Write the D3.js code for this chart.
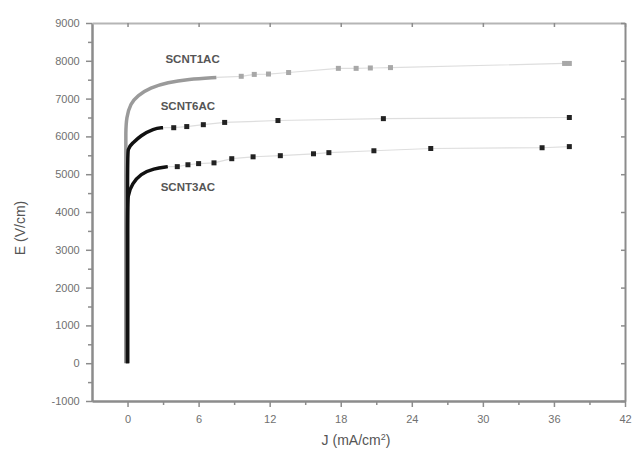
<!DOCTYPE html>
<html>
<head>
<meta charset="utf-8">
<script src="https://cdn.jsdelivr.net/npm/d3@7"></script>
<style>
  body { margin: 0; background: #fff; }
  text { font-family: "Liberation Sans", Arial, sans-serif; }
</style>
</head>
<body>
<div class="chart"></div>
<script>
// tick values
var jTicks = [0, 6, 12, 18, 24, 30, 36, 42];
var eTicks = [-1000, 0, 1000, 2000, 3000, 4000, 5000, 6000, 7000, 8000, 9000];

// series names
var seriesNames = ["SCNT1AC", "SCNT6AC", "SCNT3AC"];

// SCNT1AC (grey) - dense rising part, then sparse points
var curve1J = [-0.15, -0.15, -0.15, -0.1, 0.25, 0.85, 1.9, 3.4, 5.1, 7.5];
var curve1E = [0, 5600, 6100, 6500, 6870, 7080, 7290, 7430, 7510, 7560];
var pts1J = [9.6, 10.7, 11.9, 13.6, 17.8, 19.3, 20.5, 22.2, 36.9, 37.3];
var pts1E = [7590, 7640, 7650, 7690, 7800, 7800, 7810, 7820, 7930, 7930];

// SCNT6AC
var curve2J = [0, 0, 0, 0.4, 1.1, 2.2, 3.0];
var curve2E = [0, 5300, 5700, 5810, 6020, 6210, 6230];
var pts2J = [3.9, 5.0, 6.4, 8.2, 12.7, 21.6, 37.3];
var pts2E = [6230, 6260, 6310, 6370, 6420, 6470, 6500];

// SCNT3AC
var curve3J = [0, 0, 0, 0.4, 1.1, 2.2, 3.4];
var curve3E = [0, 4000, 4450, 4750, 5010, 5150, 5200];
var pts3J = [4.2, 5.1, 6.0, 7.3, 8.8, 10.6, 12.9, 15.7, 17.0, 20.8, 25.6, 35.0, 37.3];
var pts3E = [5200, 5250, 5280, 5300, 5410, 5460, 5490, 5540, 5570, 5620, 5680, 5700, 5730];

var width = 632, height = 454;
var padL = 92, padR = 625, padT = 23, padB = 401;

var svg = d3.select(".chart").append("svg")
    .attr("width", width)
    .attr("height", height)
    .style("background-color", "white");

var x = d3.scaleLinear().domain([-3, 42]).range([padL, padR]);
var y = d3.scaleLinear().domain([-1000, 9000]).range([padB, padT]);

var axisColor = "#8c8c8c";
var labelColor = "#707070";

function zip(a, b) {
    return a.map((v, i) => ({j: v, e: b[i]}));
}

var series = [
    {name: seriesNames[0], curve: zip(curve1J, curve1E), pts: zip(pts1J, pts1E), color: "#9a9a9a", mark: "#a8a8a8"},
    {name: seriesNames[1], curve: zip(curve2J, curve2E), pts: zip(pts2J, pts2E), color: "#111", mark: "#222"},
    {name: seriesNames[2], curve: zip(curve3J, curve3E), pts: zip(pts3J, pts3E), color: "#111", mark: "#222"}
];

var line = d3.line()
    .x(d => x(d.j))
    .y(d => y(d.e))
    .curve(d3.curveBasis);

var thin = d3.line()
    .x(d => x(d.j))
    .y(d => y(d.e));

//thin connecting lines
series.forEach(function(s) {
    svg.append("path")
    .datum([s.curve[s.curve.length - 1]].concat(s.pts))
    .attr("fill", "none")
    .attr("stroke", "#dedede")
    .attr("stroke-width", 1.2)
    .attr("d", thin);
});

//thick dense part
series.forEach(function(s) {
    svg.append("path")
    .datum(s.curve)
    .attr("fill", "none")
    .attr("stroke", s.color)
    .attr("stroke-width", 3.5)
    .attr("stroke-linejoin", "round")
    .attr("d", line);
});

//markers
series.forEach(function(s) {
    svg.selectAll(null)
    .data(s.pts)
    .enter().append("rect")
    .attr("x", d => x(d.j) - 2.5)
    .attr("y", d => y(d.e) - 2.5)
    .attr("width", 5)
    .attr("height", 5)
    .attr("fill", s.mark);
});

//series labels
var labelPos = [[3.2, 7950], [2.8, 6700], [2.8, 4550]];
series.forEach(function(s, i) {
    svg.append("text")
    .attr("x", x(labelPos[i][0]))
    .attr("y", y(labelPos[i][1]))
    .attr("font-size", "11.5px")
    .attr("font-weight", "bold")
    .style("fill", "#555")
    .text(s.name);
});

//axes
var gx = svg.append("g")
    .attr("transform", "translate(0," + padB + ")")
    .call(d3.axisBottom(x).tickValues(jTicks).tickSize(6).tickSizeOuter(0));
var gxm = svg.append("g")
    .attr("transform", "translate(0," + padB + ")")
    .call(d3.axisBottom(x).tickValues(jTicks.map(v => v + 3).filter(v => v < 42)).tickSize(4).tickFormat("").tickSizeOuter(0));
var gy = svg.append("g")
    .attr("transform", "translate(" + padL + ",0)")
    .call(d3.axisLeft(y).tickValues(eTicks).tickSize(6).tickFormat(d => String(d)).tickSizeOuter(0));
var gym = svg.append("g")
    .attr("transform", "translate(" + padL + ",0)")
    .call(d3.axisLeft(y).tickValues(eTicks.slice(0, -1).map(v => v + 500)).tickSize(4).tickFormat("").tickSizeOuter(0));
var gt = svg.append("g")
    .attr("transform", "translate(0," + padT + ")")
    .call(d3.axisBottom(x).tickValues(jTicks).tickSize(4).tickFormat("").tickSizeOuter(0));
var gr = svg.append("g")
    .attr("transform", "translate(" + padR + ",0)")
    .call(d3.axisRight(y).tickValues(eTicks).tickSize(-4).tickFormat("").tickSizeOuter(0));

[gx, gxm, gy, gym, gt, gr].forEach(function(g) {
    g.select(".domain").attr("stroke", axisColor).attr("stroke-width", 2);
    g.selectAll(".tick line").attr("stroke", axisColor).attr("stroke-width", 1.5);
    g.selectAll(".tick text").style("fill", labelColor).attr("font-size", "11px");
});
gt.select(".domain").attr("stroke", "#b5b5b5");
gx.selectAll(".tick text").attr("dy", "1.2em");
gy.selectAll(".tick text").attr("dx", "-0.3em");

//axis titles
svg.append("text")
    .attr("transform", "translate(25," + 228 + ") rotate(-90)")
    .attr("text-anchor", "middle")
    .attr("font-size", "14px")
    .style("fill", "#555")
    .text("E (V/cm)");

svg.append("text")
    .attr("x", 356)
    .attr("y", 445)
    .attr("text-anchor", "middle")
    .attr("font-size", "14px")
    .style("fill", "#555")
    .html("J (mA/cm<tspan dy='-5' font-size='9px'>2</tspan><tspan dy='5'>)</tspan>");
</script>
</body>
</html>
